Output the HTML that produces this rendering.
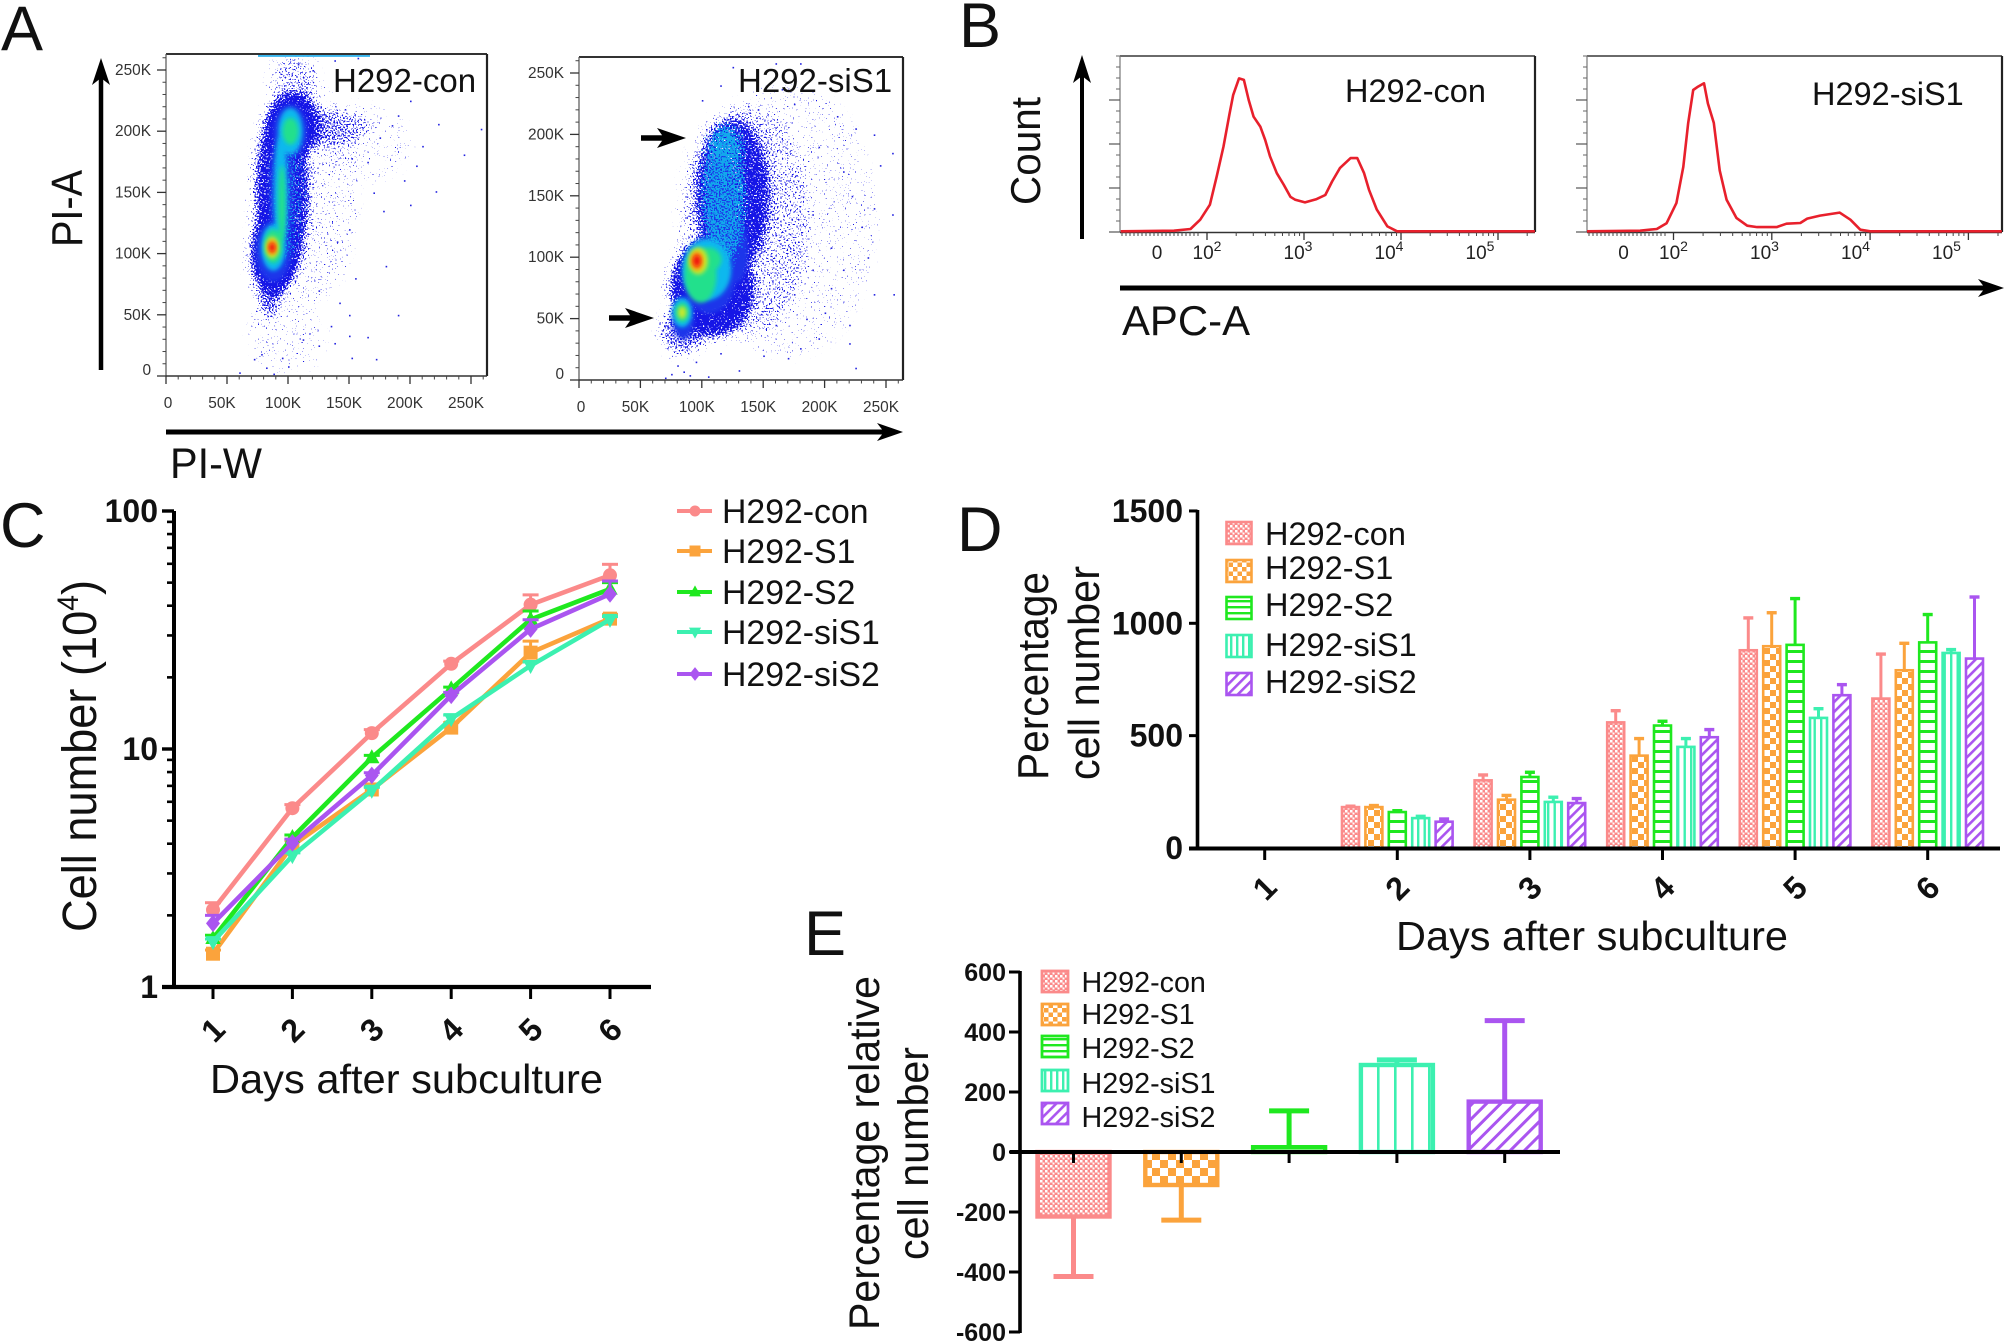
<!DOCTYPE html>
<html lang="en">
<head>
<meta charset="utf-8">
<title>H292 flow cytometry and growth panels</title>
<style>
html,body{margin:0;padding:0;background:#fff;}
svg{display:block;font-family:"Liberation Sans",sans-serif;}
text{fill:#111;}
</style>
</head>
<body>
<svg id="fig" xmlns="http://www.w3.org/2000/svg" width="2005" height="1342" viewBox="0 0 2005 1342">
<defs>
  <filter id="speckle" filterUnits="userSpaceOnUse" x="0" y="0" width="1000" height="400" color-interpolation-filters="sRGB">
    <feGaussianBlur in="SourceAlpha" stdDeviation="5" result="dens"/>
    <feTurbulence type="fractalNoise" baseFrequency="0.62" numOctaves="1" seed="7" result="t"/>
    <feColorMatrix in="t" type="matrix" values="0 0 0 0 0 0 0 0 0 0 0 0 0 0 0 2.2 0 0 0 -0.6" result="noise"/>
    <feComposite in="dens" in2="noise" operator="arithmetic" k1="0" k2="1" k3="1" k4="-1" result="sum"/>
    <feComponentTransfer in="sum" result="mask"><feFuncA type="linear" slope="30" intercept="0"/></feComponentTransfer>
    <feFlood flood-color="#1616e6"/>
    <feComposite in2="mask" operator="in"/>
  </filter>
  <filter id="speckle-cyan" filterUnits="userSpaceOnUse" x="0" y="0" width="1000" height="400" color-interpolation-filters="sRGB">
    <feGaussianBlur in="SourceAlpha" stdDeviation="4" result="dens"/>
    <feTurbulence type="fractalNoise" baseFrequency="0.62" numOctaves="1" seed="23" result="t"/>
    <feColorMatrix in="t" type="matrix" values="0 0 0 0 0 0 0 0 0 0 0 0 0 0 0 2.2 0 0 0 -0.6" result="noise"/>
    <feComposite in="dens" in2="noise" operator="arithmetic" k1="0" k2="1" k3="1" k4="-1" result="sum"/>
    <feComponentTransfer in="sum" result="mask"><feFuncA type="linear" slope="30" intercept="0"/></feComponentTransfer>
    <feFlood flood-color="#12a8ec"/>
    <feComposite in2="mask" operator="in"/>
  </filter>
  <filter id="soft" x="-40%" y="-40%" width="180%" height="180%"><feGaussianBlur stdDeviation="2.2"/></filter>
  <clipPath id="clip-a1"><rect x="166" y="54" width="321" height="322"/></clipPath>
  <clipPath id="clip-a2"><rect x="579" y="57" width="324" height="323"/></clipPath>

  <pattern id="p-con" width="5" height="5" patternUnits="userSpaceOnUse"><rect width="5" height="5" fill="#fb8a8a"/><rect width="2.5" height="2.5" fill="#fff"/><rect x="2.5" y="2.5" width="2" height="2" fill="#fff"/></pattern>
  <pattern id="p-s1" width="12" height="12" patternUnits="userSpaceOnUse"><rect width="12" height="12" fill="#fff"/><rect width="6" height="6" fill="#fba33c"/><rect x="6" y="6" width="6" height="6" fill="#fba33c"/></pattern>
  <pattern id="p-s1-e" width="16" height="16" patternUnits="userSpaceOnUse"><rect width="16" height="16" fill="#fff"/><rect width="8" height="8" fill="#fba33c"/><rect x="8" y="8" width="8" height="8" fill="#fba33c"/></pattern>
  <pattern id="p-s2" width="10" height="10" patternUnits="userSpaceOnUse"><rect width="10" height="10" fill="#fff"/><rect width="10" height="3" fill="#1fe81f"/></pattern>
  <pattern id="p-si1" width="6.5" height="10" patternUnits="userSpaceOnUse"><rect width="6.5" height="10" fill="#fff"/><rect width="2.4" height="10" fill="#3cf0b0"/></pattern>
  <pattern id="p-si1-e" width="17" height="10" patternUnits="userSpaceOnUse"><rect width="17" height="10" fill="#fff"/><rect width="2.6" height="10" fill="#3cf0b0"/></pattern>
  <pattern id="p-si2" width="7" height="7" patternUnits="userSpaceOnUse" patternTransform="rotate(45)"><rect width="7" height="7" fill="#fff"/><rect width="2.6" height="7" fill="#aa55f0"/></pattern>
  <pattern id="p-si2-e" width="10" height="10" patternUnits="userSpaceOnUse" patternTransform="rotate(45)"><rect width="10" height="10" fill="#fff"/><rect width="3" height="10" fill="#aa55f0"/></pattern>
  <pattern id="p-s1-l" width="9" height="9" patternUnits="userSpaceOnUse"><rect width="9" height="9" fill="#fff"/><rect width="4.5" height="4.5" fill="#fba33c"/><rect x="4.5" y="4.5" width="4.5" height="4.5" fill="#fba33c"/></pattern>
  <pattern id="p-s2-l" width="6" height="6" patternUnits="userSpaceOnUse"><rect width="6" height="6" fill="#fff"/><rect width="6" height="2.4" fill="#1fe81f"/></pattern>
  <pattern id="p-si1-l" width="6" height="6" patternUnits="userSpaceOnUse"><rect width="6" height="6" fill="#fff"/><rect width="2.4" height="6" fill="#3cf0b0"/></pattern>
</defs>

<!-- Panel letters -->
<text x="1" y="50" font-size="63">A</text>
<text x="959" y="47" font-size="63">B</text>
<text x="0" y="547" font-size="63">C</text>
<text x="957" y="551" font-size="63">D</text>
<text x="804" y="955" font-size="63">E</text>

<!-- Panel A static -->
<g>
  <g id="a1-plot" clip-path="url(#clip-a1)"></g>
  <g id="a2-plot" clip-path="url(#clip-a2)"></g>
  <g id="a-axes"></g>
  <text x="333" y="92" font-size="33">H292-con</text>
  <text x="738" y="92" font-size="33">H292-siS1</text>
  <line x1="101" y1="370" x2="101" y2="75" stroke="#000" stroke-width="4.5"/>
  <polygon points="101,58 92,85 101,78 110,85" fill="#000"/>
  <text transform="translate(82,247) rotate(-90)" font-size="44" textLength="77" lengthAdjust="spacingAndGlyphs">PI-A</text>
  <line x1="166" y1="432" x2="885" y2="432" stroke="#000" stroke-width="5"/>
  <polygon points="903,432 877,423 884,432 877,441" fill="#000"/>
  <text x="170" y="478" font-size="43" textLength="92" lengthAdjust="spacingAndGlyphs">PI-W</text>
  <line x1="641" y1="138" x2="672" y2="138" stroke="#000" stroke-width="5.5"/>
  <polygon points="686,138 657,128 664,138 657,148" fill="#000"/>
  <line x1="609" y1="318" x2="640" y2="318" stroke="#000" stroke-width="5.5"/>
  <polygon points="654,318 625,308 632,318 625,328" fill="#000"/>
</g>

<!-- Panel B static -->
<g>
  <g id="b-axes"></g>
  <path id="b1-line" fill="none" stroke="#e8202c" stroke-width="2.6" stroke-linejoin="round"/>
  <path id="b2-line" fill="none" stroke="#e8202c" stroke-width="2.6" stroke-linejoin="round"/>
  <text x="1345" y="102" font-size="32.5">H292-con</text>
  <text x="1812" y="105" font-size="32.5">H292-siS1</text>
  <line x1="1082" y1="239" x2="1082" y2="72" stroke="#000" stroke-width="4"/>
  <polygon points="1082,55 1073,83 1082,76 1091,83" fill="#000"/>
  <text transform="translate(1040,205) rotate(-90)" font-size="42" textLength="108" lengthAdjust="spacingAndGlyphs">Count</text>
  <line x1="1120" y1="288" x2="1985" y2="288" stroke="#000" stroke-width="5"/>
  <polygon points="2004,288 1978,279 1985,288 1978,297" fill="#000"/>
  <text x="1122" y="335" font-size="42" textLength="128" lengthAdjust="spacingAndGlyphs">APC-A</text>
</g>

<!-- Panel C static -->
<g id="panel-c">
  <text transform="translate(96,932) rotate(-90)" font-size="48" textLength="352" lengthAdjust="spacingAndGlyphs">Cell number (10<tspan font-size="30" dy="-18">4</tspan><tspan dy="18">)</tspan></text>
  <text x="210" y="1093" font-size="41" textLength="393" lengthAdjust="spacingAndGlyphs">Days after subculture</text>
</g>

<!-- Panel D static -->
<g id="panel-d">
  <text transform="translate(1048,780) rotate(-90)" font-size="44" textLength="208" lengthAdjust="spacingAndGlyphs">Percentage</text>
  <text transform="translate(1099,780) rotate(-90)" font-size="44" textLength="214" lengthAdjust="spacingAndGlyphs">cell number</text>
  <text x="1396" y="950" font-size="41" textLength="392" lengthAdjust="spacingAndGlyphs">Days after subculture</text>
</g>

<!-- Panel E static -->
<g id="panel-e">
  <text transform="translate(879,1330) rotate(-90)" font-size="43" textLength="354" lengthAdjust="spacingAndGlyphs">Percentage relative</text>
  <text transform="translate(928,1260) rotate(-90)" font-size="43" textLength="213" lengthAdjust="spacingAndGlyphs">cell number</text>
</g>
</svg>

<script>
/* ---------- Panel A data (PI-W, PI-A in thousands) ---------- */
const scatterTickValues = [0, 50, 100, 150, 200, 250];
const scatterTickLabels = ['0', '50K', '100K', '150K', '200K', '250K'];
/* speckle clouds: PI-W, PI-A, spread W, spread A, density */
const conSpeckle = [[95,150,22,75,.8],[104,205,22,26,.85],[88,100,19,34,.85],[85,70,10,22,.5],[136,203,30,15,.32],[115,150,40,90,.1],[105,238,18,24,.28],[100,35,30,30,.07],[160,190,40,30,.07]];
const siS1Speckle = [[125,150,30,62,.75],[108,75,34,40,.85],[85,40,18,18,.5],[135,130,52,95,.22],[170,130,70,110,.07]];
const conCyanSpeckle = [[100,150,12,55,.3]];
const siS1CyanSpeckle = [[118,150,18,58,.62],[122,192,14,14,.4]];
/* density contours: level, PI-W, PI-A, spread W, spread A */
const conDensity = [
 [0,88,102,15,25],[0,95,150,10,50],[0,102,200,14,22],
 [1,88,105,10,19],[1,94,150,5.5,50],[1,102,200,10,19],
 [2,88,106,7.5,14],[2,95,140,3,32],[2,102,200,6.5,11],
 [3,87,105,5.5,9],[4,87,105,3.8,6],[5,87,105,2.4,3.6]];
const siS1Density = [
 [0,116,140,11,45],[0,106,85,22,31],[0,85,50,9,17],[0,128,105,10,26],
 [1,104,90,20,25],[1,84,55,8,12],
 [2,99,85,13,22],[2,105,98,11,10],[2,84,55,5.5,8],
 [3,97,97,8,11],[3,84,55,3.4,5],[4,96,97,5,7.5],[5,96,97,3,4.6]];
/* hand-read outlying events */
const conOutliers = [[60,3],[72,14],[78,18],[82,7],[88,2],[95,15],[100,8],[112,30],[125,25],[135,41],[138,27],[150,33],[152,15],[165,32],[172,14],[190,50],[142,60],[150,50],[155,80],[125,70],[180,90],[140,110],[150,120],[200,140],[221,151],[258,202],[223,206],[210,188],[244,181],[190,213],[175,195],[185,205],[163,250],[200,225],[205,172],[195,160],[170,150],[178,135],[165,175],[152,178],[108,255],[120,250],[138,258],[157,260]];
const siS1Outliers = [[70,2],[75,5],[80,12],[85,7],[90,4],[95,15],[105,3],[115,22],[130,8],[150,20],[170,18],[180,26],[195,34],[200,55],[225,10],[220,45],[205,75],[215,90],[235,100],[240,70],[256,70],[255,135],[240,140],[230,125],[222,150],[215,170],[225,205],[240,200],[245,175],[255,185],[210,215],[195,190],[190,135],[175,225],[165,237],[145,250],[125,255],[115,240],[180,258],[160,258],[205,108],[190,90],[175,70],[160,45],[185,50],[220,30],[110,190],[100,228]];
const densityColours = ['#1c34ea', '#0ab8ee', '#22e08c', '#c8e82c', '#ff8a10', '#ee1010'];

/* ---------- Panel B data (log10 APC, % of max count) ---------- */
const histYTicks = [0, 25, 50, 75];
const histXDecades = [2, 3, 4, 5];
const conHistLog = [1.11,1.66,1.83,1.93,2.03,2.10,2.17,2.23,2.27,2.33,2.38,2.43,2.48,2.55,2.60,2.65,2.72,2.79,2.86,2.91,3.01,3.13,3.22,3.29,3.37,3.48,3.55,3.62,3.67,3.75,3.86,3.96,5.38];
const conHistCount = [.4,.76,1.7,7,15.5,31.6,48.6,66.5,77.9,87.3,86.4,75,65.5,59.9,52.3,43,33.4,27,20,18.3,16.8,18.7,21,28.7,36.3,42,42,33.4,24,12.7,3.2,.4,.4];
const siS1HistLog = [1.12,1.66,1.83,1.93,2.03,2.10,2.15,2.20,2.25,2.31,2.35,2.41,2.47,2.54,2.64,2.75,2.85,3.05,3.15,3.29,3.36,3.49,3.69,3.80,3.90,4.0,5.34];
const siS1HistCount = [.4,.76,1.7,5,16.4,37,62,80.7,82.6,84.5,73,62,35,18.3,8,3.6,2.8,2.8,4.7,5.1,7.6,9.3,11,7,1.3,.4,.4];

/* ---------- Panel C data ---------- */
const days = [1, 2, 3, 4, 5, 6];
const seriesNames = ['H292-con', 'H292-S1', 'H292-S2', 'H292-siS1', 'H292-siS2'];
const logTickLabels = [1, 10, 100];
const cConValues = [2.11, 5.64, 11.66, 22.8, 40.4, 53.7];
const cS1Values = [1.38, 3.93, 6.76, 12.3, 25.4, 35.3];
const cS2Values = [1.6, 4.25, 9.2, 17.9, 35, 47];
const cSiS1Values = [1.55, 3.56, 6.7, 13.4, 22.4, 35];
const cSiS2Values = [1.85, 4.03, 7.75, 16.8, 31.9, 44.8];
const cConErr = [.15, .2, .4, .6, 4, 6];
const cS1Err = [.05, .2, .2, .6, 3, 1.5];
const cS2Err = [.05, .1, .2, .3, 3, 3];
const cSiS1Err = [.04, .1, .2, .5, .8, 1];
const cSiS2Err = [.15, .15, .2, .5, 3, 6];

/* ---------- Panel D data ---------- */
const dTickValues = [0, 500, 1000, 1500];
const dConValues = [0, 182, 301, 559, 880, 665];
const dS1Values = [0, 182, 215, 411, 898, 791];
const dS2Values = [0, 160, 316, 545, 904, 915];
const dSiS1Values = [0, 133, 205, 450, 579, 868];
const dSiS2Values = [0, 117, 200, 493, 680, 843];
const dConUpper = [0, 186, 325, 611, 1024, 863];
const dS1Upper = [0, 189, 234, 487, 1047, 911];
const dS2Upper = [0, 166, 337, 564, 1110, 1039];
const dSiS1Upper = [0, 141, 226, 487, 620, 883];
const dSiS2Upper = [0, 129, 220, 527, 727, 1117];

/* ---------- Panel E data ---------- */
const eTickValues = [600, 400, 200, 0, -200, -400, -600];
const eValues = [-215, -110, 16, 290, 168];
const eErrorEnds = [-415, -227, 137, 307, 438];

/* ---------- styling ---------- */
const seriesColours = ['#fb8a8a', '#fba33c', '#1fe81f', '#3cf0b0', '#aa55f0'];
const dFills = ['url(#p-con)', 'url(#p-s1)', 'url(#p-s2)', 'url(#p-si1)', 'url(#p-si2)'];
const eFills = ['url(#p-con)', 'url(#p-s1-e)', 'url(#p-s2)', 'url(#p-si1-e)', 'url(#p-si2-e)'];
const legendFills = ['url(#p-con)', 'url(#p-s1-l)', 'url(#p-s2-l)', 'url(#p-si1-l)', 'url(#p-si2)'];

const NS = 'http://www.w3.org/2000/svg';
const fig = document.getElementById('fig');
function make(tag, attrs, parent) {
  const n = document.createElementNS(NS, tag);
  for (const k in attrs) n.setAttribute(k, attrs[k]);
  parent.appendChild(n);
  return n;
}
function line(parent, x1, y1, x2, y2, col, w, name) {
  const n = make('line', {x1, y1, x2, y2, stroke: col, 'stroke-width': w}, parent);
  
  
  return n;
}
function label(parent, x, y, str, size, attrs, name) {
  const n = make('text', Object.assign({x, y, 'font-size': size}, attrs || {}), parent);
  n.textContent = str;
  
  
  return n;
}

/* ---------- Panel A ---------- */
function drawSpeckle(plot, X, Y, clouds, filterId, tag) {
  const spk = make('g', {filter: 'url(#' + filterId + ')'}, plot);
  
  
  clouds.forEach(c => {
    const e = make('ellipse', {cx: X(c[0]), cy: Y(c[1]), rx: X(c[2]) - X(0), ry: Y(0) - Y(c[3]), 'fill-opacity': c[4]}, spk);
    
    
  });
}
function drawScatter(plot, axes, X, Y, x0, y0, x1, y1, speckle, cyanSpeckle, density, outliers, tag) {
  drawSpeckle(plot, X, Y, speckle, 'speckle', tag + '-speckle');
  densityColours.forEach((col, lvl) => {
    if (lvl === 1) drawSpeckle(plot, X, Y, cyanSpeckle, 'speckle-cyan', tag + '-cyan-speckle');
    const g = make('g', {filter: 'url(#soft)'}, plot);
    
    
    density.filter(d => d[0] === lvl).forEach(d => {
      const e = make('ellipse', {cx: X(d[1]), cy: Y(d[2]), rx: X(d[3]) - X(0), ry: Y(0) - Y(d[4]), fill: col}, g);
      
      
    });
  });
  outliers.forEach(p => {
    const r = make('rect', {x: X(p[0]), y: Y(p[1]), width: 1.6, height: 1.6, fill: '#2222e0'}, plot);
    
    
  });
  /* frame */
  line(axes, x0, y0, x1, y0, '#333', 2, tag + '-frame-top');
  line(axes, x1, y0, x1, y1, '#222', 2.2, tag + '-frame-right');
  line(axes, x0, y0, x0, y1, '#555', 1.2, tag + '-frame-left');
  line(axes, x0, y1, x1, y1, '#333', 1.6, tag + '-frame-bottom');
  for (let k = 10; k <= 260; k += 10) {
    if (k % 50) {
      line(axes, X(k), y1, X(k), y1 + 3.5, '#444', 1, tag + '-x-minor-tick');
      line(axes, x0 - 3.5, Y(k), x0, Y(k), '#444', 1, tag + '-y-minor-tick');
    }
  }
  scatterTickValues.forEach((v, i) => {
    line(axes, X(v), y1, X(v), y1 + 8, '#333', 1.3, tag + '-x-tick');
    line(axes, x0 - 9, Y(v), x0, Y(v), '#333', 1.3, tag + '-y-tick');
    label(axes, X(v) + (i === 0 ? 2 : -5), y1 + 32, scatterTickLabels[i], 15.4, {'text-anchor': 'middle', style: 'fill:#333'}, tag + '-x-tick-label');
    label(axes, x0 - 15, Y(v) + (i === 0 ? -1 : 5), scatterTickLabels[i], 15.4, {'text-anchor': 'end', style: 'fill:#333'}, tag + '-y-tick-label');
  });
}
const a1X = k => 166 + k * 1.22, a1Y = k => 376 - k * 1.224;
const a2X = k => 579 + k * 1.228, a2Y = k => 380 - k * 1.228;
const a1 = document.getElementById('a1-plot'), a2 = document.getElementById('a2-plot'), aAx = document.getElementById('a-axes');
drawScatter(a1, aAx, a1X, a1Y, 166, 54, 487, 376, conSpeckle, conCyanSpeckle, conDensity, conOutliers, 'scatter-con');
drawScatter(a2, aAx, a2X, a2Y, 579, 57, 903, 380, siS1Speckle, siS1CyanSpeckle, siS1Density, siS1Outliers, 'scatter-sis1');
const topStreak = make('rect', {x: 258, y: 54.5, width: 112, height: 2.4, fill: '#39b6ee'}, a1);



/* ---------- Panel B ---------- */
function drawHist(pathId, logs, counts, xOrigin, decade, frameL, frameR, ticksMajor, tag) {
  const bAx = document.getElementById('b-axes');
  const X = l => xOrigin + (l - 2) * decade;
  const Y = c => 232 - c * 1.76;
  line(bAx, frameL, 56, frameR, 56, '#555', 1.8, tag + '-frame-top');
  line(bAx, frameR, 56, frameR, 232, '#222', 2.2, tag + '-frame-right');
  line(bAx, frameL, 56, frameL, 232, '#777', 1.2, tag + '-frame-left');
  line(bAx, frameL, 232.5, frameR, 232.5, '#333', 1.4, tag + '-frame-bottom');
  for (let c = 0; c <= 100; c += 6.25) {
    line(bAx, frameL - 4, Y(c), frameL, Y(c), '#666', 1, tag + '-y-minor-tick');
  }
  ticksMajor.forEach(c => line(bAx, frameL - 11, Y(c), frameL, Y(c), '#555', 1.2, tag + '-y-tick'));
  histXDecades.forEach(d => {
    line(bAx, X(d), 232, X(d), 240, '#333', 1.3, tag + '-x-tick');
    for (let m = 2; m < 10; m++) {
      const lg = d + Math.log10(m);
      if (X(lg) < frameR) line(bAx, X(lg), 232, X(lg), 236, '#444', 1, tag + '-x-minor-tick');
    }
    const t = label(bAx, xOrigin + (d - 2) * 91, 259, '10', 19, {'text-anchor': 'middle', style: 'fill:#222'}, tag + '-x-tick-label');
    const s = make('tspan', {dy: -8, 'font-size': 14}, t);
    s.textContent = d;
  });
  for (let l = frameL + 2; l < xOrigin - 8; l += 4) {
    line(bAx, l, 232, l, 236, '#444', 1, tag + '-x-minor-tick');
  }
  label(bAx, xOrigin - 50, 259, '0', 19, {'text-anchor': 'middle', style: 'fill:#222'}, tag + '-x-zero-label');
  document.getElementById(pathId).setAttribute('d', logs.map((l, i) => (i ? 'L' : 'M') + X(l).toFixed(1) + ' ' + Y(counts[i]).toFixed(1)).join(' '));
}
drawHist('b1-line', conHistLog, conHistCount, 1207, 97, 1120, 1535, histYTicks, 'histogram-con');
drawHist('b2-line', siS1HistLog, siS1HistCount, 1673.5, 98.3, 1587, 2002, histYTicks, 'histogram-sis1');

/* ---------- Panel C ---------- */
const gC = document.getElementById('panel-c');
const cX = d => 213 + (d - 1) * 79.4;
const cY = v => 987 - Math.log10(v) * 238;
function marker(parent, s, x, y, r) {
  let n;
  const col = seriesColours[s];
  if (s === 0) n = make('circle', {cx: x, cy: y, r: r, fill: col}, parent);
  else if (s === 1) n = make('rect', {x: x - r, y: y - r, width: 2 * r, height: 2 * r, fill: col}, parent);
  else if (s === 2) n = make('polygon', {points: [x, y - r * 1.2, x + r * 1.1, y + r * .8, x - r * 1.1, y + r * .8].join(','), fill: col}, parent);
  else if (s === 3) n = make('polygon', {points: [x, y + r * 1.2, x + r * 1.1, y - r * .8, x - r * 1.1, y - r * .8].join(','), fill: col}, parent);
  else n = make('polygon', {points: [x, y - r * 1.25, x + r, y, x, y + r * 1.25, x - r, y].join(','), fill: col}, parent);
  return n;
}
[cConValues, cS1Values, cS2Values, cSiS1Values, cSiS2Values].forEach((vals, s) => {
  const errs = [cConErr, cS1Err, cS2Err, cSiS1Err, cSiS2Err][s];
  const col = seriesColours[s];
  const pl = make('polyline', {points: days.map((d, i) => cX(d) + ',' + cY(vals[i])).join(' '), fill: 'none', stroke: col, 'stroke-width': 4.6}, gC);
  
  
  days.forEach((d, i) => {
    line(gC, cX(d), cY(vals[i]), cX(d), cY(vals[i] + errs[i]), col, 3, 'growth-error-bar');
    line(gC, cX(d) - 8, cY(vals[i] + errs[i]), cX(d) + 8, cY(vals[i] + errs[i]), col, 3, 'growth-error-cap');
    const m = marker(gC, s, cX(d), cY(vals[i]), 7);
    
    
  });
});
line(gC, 174, 511, 174, 989, '#000', 4, 'growth-y-axis');
line(gC, 162, 987, 651, 987, '#000', 4.2, 'growth-x-axis');
logTickLabels.forEach(v => {
  line(gC, 162, cY(v), 174, cY(v), '#000', 3.4, 'growth-y-tick');
  label(gC, 158, cY(v) + 11, String(v), 32, {'text-anchor': 'end', 'font-weight': 'bold'}, 'growth-y-tick-label');
  if (v < 100) for (let m = 2; m < 10; m++) line(gC, 167, cY(v * m), 174, cY(v * m), '#000', 2.6, 'growth-y-minor-tick');
});
days.forEach(d => {
  line(gC, cX(d), 987, cX(d), 999, '#000', 3, 'growth-x-tick');
  label(gC, cX(d), 1041, String(d), 32, {'text-anchor': 'middle', 'font-weight': 'bold', transform: 'rotate(-45 ' + cX(d) + ' 1030)'}, 'growth-x-tick-label');
});
const cLegendY = [511, 551, 592, 632, 674];
seriesNames.forEach((nm, s) => {
  line(gC, 677, cLegendY[s], 712, cLegendY[s], seriesColours[s], 4, 'legend-line-' + nm.toLowerCase());
  const m = marker(gC, s, 695, cLegendY[s], 5.5);
  
  
  label(gC, 722, cLegendY[s] + 12, nm, 33.8, null, 'legend-entry-' + nm.toLowerCase());
});

/* ---------- Panel D ---------- */
const gD = document.getElementById('panel-d');
const dX = (d, s) => 1264.7 + (d - 1) * 132.6 + (s - 2) * 23.4;
const dY = v => 848 - v * 0.2247;
[dConValues, dS1Values, dS2Values, dSiS1Values, dSiS2Values].forEach((vals, s) => {
  const ups = [dConUpper, dS1Upper, dS2Upper, dSiS1Upper, dSiS2Upper][s];
  const col = seriesColours[s];
  days.forEach((d, i) => {
    if (vals[i] <= 0) return;
    const cx = dX(d, s);
    line(gD, cx, dY(vals[i]), cx, dY(ups[i]), col, 3, 'percent-error-bar');
    line(gD, cx - 5, dY(ups[i]), cx + 5, dY(ups[i]), col, 3.4, 'percent-error-cap');
    const r = make('rect', {x: cx - 8.5, y: dY(vals[i]), width: 17, height: dY(0) - dY(vals[i]), fill: dFills[s], stroke: col, 'stroke-width': 2.6}, gD);
    
    
  });
});
line(gD, 1197.5, 510, 1197.5, 850, '#000', 3.6, 'percent-y-axis');
line(gD, 1189, 848.5, 2000, 848.5, '#000', 4, 'percent-x-axis');
dTickValues.forEach(v => {
  line(gD, 1189, dY(v), 1197.5, dY(v), '#000', 3, 'percent-y-tick');
  label(gD, 1183, dY(v) + 11, String(v), 32, {'text-anchor': 'end', 'font-weight': 'bold'}, 'percent-y-tick-label');
});
days.forEach(d => {
  line(gD, dX(d, 2), 848, dX(d, 2), 860, '#000', 3, 'percent-x-tick');
  label(gD, dX(d, 2), 899, String(d), 32, {'text-anchor': 'middle', 'font-weight': 'bold', transform: 'rotate(-45 ' + dX(d, 2) + ' 888)'}, 'percent-x-tick-label');
});
const dLegendTop = [522, 560, 597, 635, 673];
const dLegendBase = [545, 579, 616, 656, 693];
seriesNames.forEach((nm, s) => {
  const r = make('rect', {x: 1226.5, y: dLegendTop[s], width: 25, height: 22, fill: legendFills[s], stroke: seriesColours[s], 'stroke-width': 2.6}, gD);
  
  
  label(gD, 1265, dLegendBase[s], nm, 32.5, null, 'legend-entry-' + nm.toLowerCase());
});

/* ---------- Panel E ---------- */
const gE = document.getElementById('panel-e');
const eX = i => 1073.5 + i * 107.8;
const eY = v => 1152 - v * 0.3;
eValues.forEach((v, i) => {
  const col = seriesColours[i];
  const top = Math.min(eY(v), eY(0)), h = Math.abs(eY(v) - eY(0));
  line(gE, eX(i), eY(v), eX(i), eY(eErrorEnds[i]), col, 5, 'relative-error-bar');
  line(gE, eX(i) - 20, eY(eErrorEnds[i]), eX(i) + 20, eY(eErrorEnds[i]), col, 5, 'relative-error-cap');
  const r = make('rect', {x: eX(i) - 36, y: top, width: 72, height: h, fill: eFills[i], stroke: col, 'stroke-width': 4.4}, gE);
  
  
});
line(gE, 1020, 971, 1020, 1333, '#000', 3.6, 'relative-y-axis');
line(gE, 1010, 1152, 1560, 1152, '#000', 4, 'relative-x-axis');
eTickValues.forEach(v => {
  line(gE, 1009, eY(v), 1020, eY(v), '#000', 3, 'relative-y-tick');
  label(gE, 1006, eY(v) + 9, String(v), 25, {'text-anchor': 'end', 'font-weight': 'bold'}, 'relative-y-tick-label');
});
eValues.forEach((v, i) => {
  line(gE, eX(i), 1152, eX(i), 1163, '#000', 3, 'relative-x-tick');
});
const eLegendTop = [971, 1004, 1036, 1070, 1103];
const eLegendBase = [992, 1024, 1058, 1093, 1127];
seriesNames.forEach((nm, s) => {
  const r = make('rect', {x: 1042, y: eLegendTop[s], width: 26, height: 21, fill: legendFills[s], stroke: seriesColours[s], 'stroke-width': 2.8}, gE);
  
  
  label(gE, 1081.5, eLegendBase[s], nm, 28.7, null, 'legend-entry-' + nm.toLowerCase());
});
</script>
</body>
</html>
